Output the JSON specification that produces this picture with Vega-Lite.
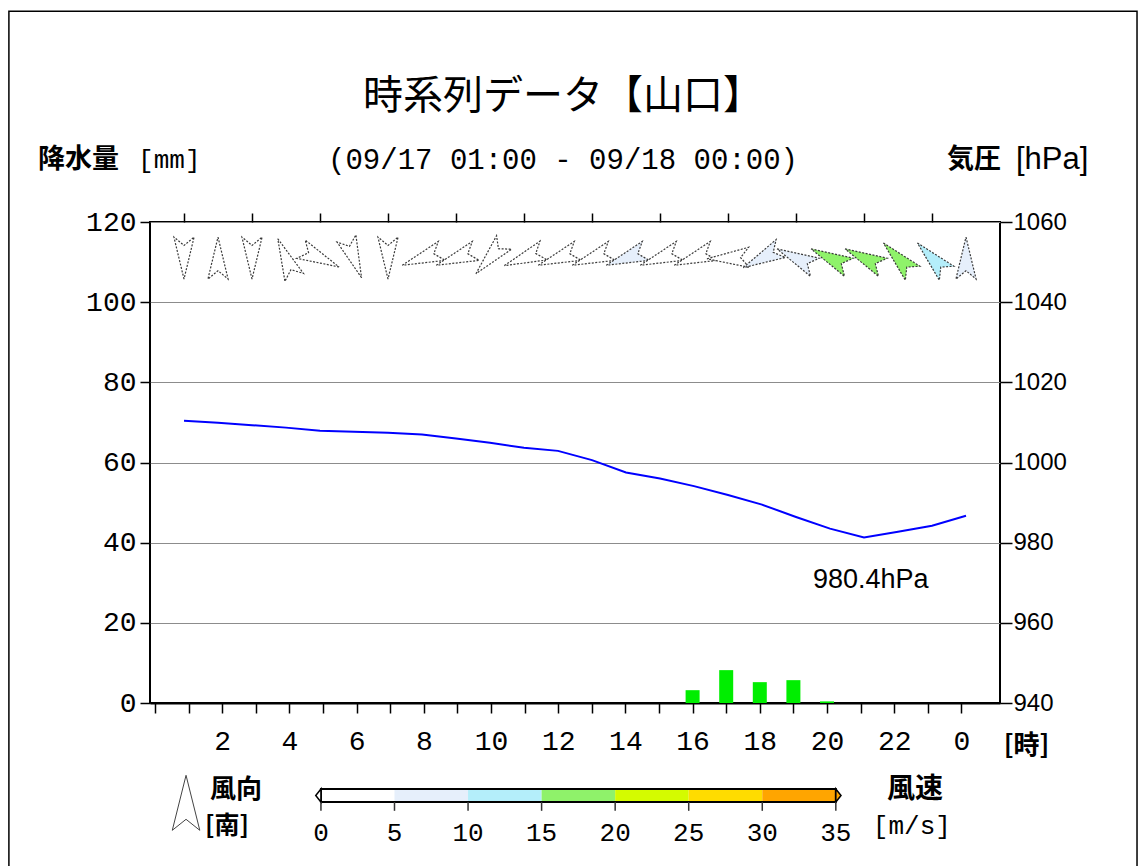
{
  "$schema": "https://vega.github.io/schema/vega-lite/v6.json",
  "width": 850,
  "height": 481,
  "autosize": {"type": "none"},
  "padding": {"left": 150, "top": 222, "right": 140, "bottom": 163},
  "background": "white",
  "title": {
    "text": "時系列データ【山口】",
    "subtitle": "(09/17 01:00 - 09/18 00:00)",
    "anchor": "middle",
    "dx": -12,
    "offset": -165,
    "subtitlePadding": 29,
    "font": "Noto Sans CJK JP",
    "fontSize": 40,
    "fontWeight": "normal",
    "color": "black",
    "subtitleFont": "Liberation Mono",
    "subtitleFontSize": 29,
    "subtitleColor": "black"
  },
  "datasets": {
    "precip": [
      {"hour": 1, "precip": 0}, {"hour": 2, "precip": 0}, {"hour": 3, "precip": 0}, {"hour": 4, "precip": 0},
      {"hour": 5, "precip": 0}, {"hour": 6, "precip": 0}, {"hour": 7, "precip": 0}, {"hour": 8, "precip": 0},
      {"hour": 9, "precip": 0}, {"hour": 10, "precip": 0}, {"hour": 11, "precip": 0}, {"hour": 12, "precip": 0},
      {"hour": 13, "precip": 0}, {"hour": 14, "precip": 0}, {"hour": 15, "precip": 0}, {"hour": 16, "precip": 3.2},
      {"hour": 17, "precip": 8.2}, {"hour": 18, "precip": 5.2}, {"hour": 19, "precip": 5.7}, {"hour": 20, "precip": 0.4},
      {"hour": 21, "precip": 0}, {"hour": 22, "precip": 0}, {"hour": 23, "precip": 0}, {"hour": 24, "precip": 0}
    ],
    "pressure": [
      {"hour": 1, "hPa": 1010.4}, {"hour": 2, "hPa": 1009.9}, {"hour": 3, "hPa": 1009.3}, {"hour": 4, "hPa": 1008.7},
      {"hour": 5, "hPa": 1007.9}, {"hour": 6, "hPa": 1007.7}, {"hour": 7, "hPa": 1007.4}, {"hour": 8, "hPa": 1007.0},
      {"hour": 9, "hPa": 1006.0}, {"hour": 10, "hPa": 1004.9}, {"hour": 11, "hPa": 1003.7}, {"hour": 12, "hPa": 1002.9},
      {"hour": 13, "hPa": 1000.6}, {"hour": 14, "hPa": 997.5}, {"hour": 15, "hPa": 996.0}, {"hour": 16, "hPa": 994.1},
      {"hour": 17, "hPa": 991.9}, {"hour": 18, "hPa": 989.5}, {"hour": 19, "hPa": 986.4}, {"hour": 20, "hPa": 983.5},
      {"hour": 21, "hPa": 981.3}, {"hour": 22, "hPa": 982.7}, {"hour": 23, "hPa": 984.2}, {"hour": 24, "hPa": 986.7}
    ],
    "wind": [
      {"hour": 1, "dir": 180, "speed": 2.5}, {"hour": 2, "dir": 0, "speed": 2.0}, {"hour": 3, "dir": 180, "speed": 2.2},
      {"hour": 4, "dir": 337, "speed": 2.8}, {"hour": 5, "dir": 115, "speed": 3.2}, {"hour": 6, "dir": 159, "speed": 2.6},
      {"hour": 7, "dir": 180, "speed": 2.4}, {"hour": 8, "dir": 250, "speed": 3.5}, {"hour": 9, "dir": 250, "speed": 3.8},
      {"hour": 10, "dir": 222, "speed": 3.0}, {"hour": 11, "dir": 249, "speed": 4.0}, {"hour": 12, "dir": 250, "speed": 4.2},
      {"hour": 13, "dir": 250, "speed": 4.5}, {"hour": 14, "dir": 250, "speed": 5.6}, {"hour": 15, "dir": 250, "speed": 4.6},
      {"hour": 16, "dir": 250, "speed": 4.8}, {"hour": 17, "dir": 268, "speed": 4.4}, {"hour": 18, "dir": 243, "speed": 6.2},
      {"hour": 19, "dir": 296, "speed": 7.5}, {"hour": 20, "dir": 296, "speed": 15.8}, {"hour": 21, "dir": 296, "speed": 16.3},
      {"hour": 22, "dir": 316, "speed": 15.5}, {"hour": 23, "dir": 316, "speed": 11.2}, {"hour": 24, "dir": 0, "speed": 6.8}
    ],
    "speedBins": [
      {"lo": 0, "hi": 5}, {"lo": 5, "hi": 10}, {"lo": 10, "hi": 15}, {"lo": 15, "hi": 20},
      {"lo": 20, "hi": 25}, {"lo": 25, "hi": 30}, {"lo": 30, "hi": 35}
    ],
    "speedTicks": [
      {"v": 0}, {"v": 5}, {"v": 10}, {"v": 15}, {"v": 20}, {"v": 25}, {"v": 30}, {"v": 35}
    ]
  },
  "layer": [
    {
      "data": {"name": "precip"},
      "mark": {"type": "bar", "color": "#00ee00", "size": 14},
      "encoding": {
        "x": {
          "field": "hour", "type": "quantitative",
          "scale": {"domain": [0, 25], "nice": false, "zero": false},
          "axis": {
            "orient": "bottom",
            "values": [0, 1, 2, 3, 4, 5, 6, 7, 8, 9, 10, 11, 12, 13, 14, 15, 16, 17, 18, 19, 20, 21, 22, 23, 24],
            "labelExpr": "datum.value % 2 == 0 && datum.value > 0 ? (datum.value == 24 ? '0' : datum.label) : ''",
            "labelOverlap": false, "labelFlush": false,
            "tickSize": 10, "tickColor": "black", "tickWidth": 1.5,
            "domain": true, "domainColor": "black", "domainWidth": 2,
            "labelFont": "Liberation Mono", "labelFontSize": 28, "labelColor": "black", "labelPadding": 14,
            "grid": false,
            "title": "[時]", "titleX": 876, "titleY": 42, "titleAlign": "center", "titleBaseline": "middle",
            "titleFont": "Noto Sans CJK JP", "titleFontSize": 26, "titleFontWeight": "bold", "titleColor": "black"
          }
        },
        "y": {
          "field": "precip", "type": "quantitative",
          "scale": {"domain": [0, 120], "nice": false, "zero": false},
          "axis": {
            "orient": "left", "values": [0, 20, 40, 60, 80, 100, 120],
            "grid": true, "gridColor": "#8c8c8c", "gridWidth": 1,
            "tickSize": 10, "tickColor": "black", "tickWidth": 1.5, "domain": false,
            "labelFont": "Liberation Mono", "labelFontSize": 28, "labelColor": "black", "labelPadding": 4,
            "labelFlush": false, "title": null
          }
        }
      }
    },
    {
      "layer": [
        {
          "data": {"name": "pressure"},
          "mark": {"type": "line", "color": "#0000ff", "strokeWidth": 2},
          "encoding": {
            "x": {
              "field": "hour", "type": "quantitative",
              "scale": {"domain": [0, 25], "nice": false, "zero": false},
              "axis": {
                "orient": "top",
                "values": [1, 2, 3, 4, 5, 6, 7, 8, 9, 10, 11, 12, 13, 14, 15, 16, 17, 18, 19, 20, 21, 22, 23, 24],
                "labels": false, "tickSize": 9, "tickColor": "black", "tickWidth": 1.5,
                "domain": false, "grid": false, "title": null
              }
            },
            "y": {
              "field": "hPa", "type": "quantitative",
              "scale": {"domain": [940, 1060], "nice": false, "zero": false},
              "axis": {
                "orient": "right", "values": [940, 960, 980, 1000, 1020, 1040, 1060], "format": "d",
                "tickSize": 12, "tickColor": "black", "tickWidth": 1.5, "domain": false, "grid": false,
                "labelFont": "Liberation Sans Narrow, Liberation Sans, sans-serif", "labelFontSize": 24,
                "labelColor": "black", "labelPadding": 1, "labelFlush": false, "title": null
              }
            }
          }
        },
        {
          "data": {"values": [{}]},
          "mark": {"type": "text", "font": "Liberation Sans Narrow, Liberation Sans, sans-serif", "fontSize": 27,
                   "dy": 39, "align": "center", "baseline": "middle", "color": "black"},
          "encoding": {
            "x": {"datum": 21.2, "type": "quantitative"},
            "y": {"datum": 980.4, "type": "quantitative"},
            "text": {"value": "980.4hPa"}
          }
        }
      ]
    },
    {
      "data": {"name": "wind"},
      "mark": {"type": "point", "shape": "M0,-1L0.48,1L0,0.6L-0.48,1Z", "filled": true, "size": 1764,
               "stroke": "#3a3a3a", "strokeWidth": 1.2, "strokeDash": [2, 1.5], "opacity": 1},
      "encoding": {
        "x": {"field": "hour", "type": "quantitative", "scale": {"domain": [0, 25], "nice": false, "zero": false}, "axis": null},
        "y": {"datum": 111, "type": "quantitative", "scale": {"domain": [0, 120], "nice": false, "zero": false}, "axis": null},
        "angle": {"field": "dir", "type": "quantitative", "scale": {"domain": [0, 360], "range": [0, 360]}},
        "color": {
          "field": "speed", "type": "quantitative",
          "scale": {"type": "threshold", "domain": [5, 10, 15, 20, 25, 30],
                    "range": ["#ffffff", "#e6effb", "#b4eefa", "#8ff26a", "#d4fb00", "#ffdc00", "#ffa500"]},
          "legend": null
        }
      }
    },
    {
      "data": {"values": [{}]},
      "layer": [
        {
          "mark": {"type": "rect", "filled": false, "stroke": "black", "strokeWidth": 1.5},
          "encoding": {
            "x": {"datum": -4.15, "type": "quantitative", "scale": {"domain": [0, 25], "nice": false, "zero": false}, "axis": null},
            "x2": {"datum": 29.03},
            "y": {"datum": 172.6, "type": "quantitative", "scale": {"domain": [0, 120], "nice": false, "zero": false}, "axis": null},
            "y2": {"datum": -45}
          }
        },
        {
          "mark": {"type": "text", "font": "Noto Sans CJK JP", "fontSize": 27, "fontWeight": "bold", "align": "left", "baseline": "middle", "color": "black"},
          "encoding": {
            "x": {"datum": -3.294, "type": "quantitative", "axis": null},
            "y": {"datum": 135.5, "type": "quantitative", "axis": null},
            "text": {"value": "降水量"}
          }
        },
        {
          "mark": {"type": "text", "font": "Liberation Mono", "fontSize": 26, "align": "left", "baseline": "middle", "color": "black"},
          "encoding": {
            "x": {"datum": -0.35, "type": "quantitative", "axis": null},
            "y": {"datum": 135.5, "type": "quantitative", "axis": null},
            "text": {"value": "[mm]"}
          }
        },
        {
          "mark": {"type": "text", "font": "Noto Sans CJK JP", "fontSize": 27, "fontWeight": "bold", "align": "left", "baseline": "middle", "color": "black"},
          "encoding": {
            "x": {"datum": 23.44, "type": "quantitative", "axis": null},
            "y": {"datum": 135.5, "type": "quantitative", "axis": null},
            "text": {"value": "気圧"}
          }
        },
        {
          "mark": {"type": "text", "font": "Liberation Sans Narrow, Liberation Sans, sans-serif", "fontSize": 31, "align": "left", "baseline": "middle", "color": "black"},
          "encoding": {
            "x": {"datum": 25.47, "type": "quantitative", "axis": null},
            "y": {"datum": 135.5, "type": "quantitative", "axis": null},
            "text": {"value": "[hPa]"}
          }
        },
        {
          "mark": {"type": "point", "shape": "M0,-1L0.5,1L0,0.6L-0.5,1Z", "filled": true, "fill": "white", "size": 3025,
                   "stroke": "#444444", "strokeWidth": 1, "opacity": 1},
          "encoding": {
            "x": {"datum": 1.06, "type": "quantitative", "axis": null},
            "y": {"datum": -24.9, "type": "quantitative", "axis": null}
          }
        },
        {
          "mark": {"type": "text", "font": "Noto Sans CJK JP", "fontSize": 26, "fontWeight": "bold", "align": "left", "baseline": "middle", "color": "black"},
          "encoding": {
            "x": {"datum": 1.765, "type": "quantitative", "axis": null},
            "y": {"datum": -21.7, "type": "quantitative", "axis": null},
            "text": {"value": "風向"}
          }
        },
        {
          "mark": {"type": "text", "font": "Noto Sans CJK JP", "fontSize": 25, "fontWeight": "bold", "align": "left", "baseline": "middle", "color": "black"},
          "encoding": {
            "x": {"datum": 1.618, "type": "quantitative", "axis": null},
            "y": {"datum": -30.7, "type": "quantitative", "axis": null},
            "text": {"value": "[南]"}
          }
        },
        {
          "mark": {"type": "text", "font": "Noto Sans CJK JP", "fontSize": 28, "fontWeight": "bold", "align": "left", "baseline": "middle", "color": "black"},
          "encoding": {
            "x": {"datum": 21.68, "type": "quantitative", "axis": null},
            "y": {"datum": -21.7, "type": "quantitative", "axis": null},
            "text": {"value": "風速"}
          }
        },
        {
          "mark": {"type": "text", "font": "Liberation Mono", "fontSize": 26, "align": "left", "baseline": "middle", "color": "black"},
          "encoding": {
            "x": {"datum": 21.26, "type": "quantitative", "axis": null},
            "y": {"datum": -30.7, "type": "quantitative", "axis": null},
            "text": {"value": "[m/s]"}
          }
        }
      ]
    },
    {
      "layer": [
        {
          "data": {"name": "speedBins"},
          "mark": {"type": "rect"},
          "encoding": {
            "x": {"field": "lo", "type": "quantitative", "scale": {"domain": [-11.62, 46.16], "nice": false, "zero": false}, "axis": null},
            "x2": {"field": "hi"},
            "y": {"datum": -21.46, "type": "quantitative", "scale": {"domain": [0, 120], "nice": false, "zero": false}, "axis": null},
            "y2": {"datum": -24.7},
            "color": {
              "field": "lo", "type": "quantitative",
              "scale": {"type": "threshold", "domain": [5, 10, 15, 20, 25, 30],
                        "range": ["#ffffff", "#e6effb", "#b4eefa", "#8ff26a", "#d4fb00", "#ffdc00", "#ffa500"]},
              "legend": null
            }
          }
        },
        {
          "data": {"values": [{}]},
          "mark": {"type": "rect", "filled": false, "stroke": "black", "strokeWidth": 2},
          "encoding": {
            "x": {"datum": 0, "type": "quantitative", "axis": null},
            "x2": {"datum": 35},
            "y": {"datum": -21.46, "type": "quantitative", "axis": null},
            "y2": {"datum": -24.7}
          }
        },
        {
          "data": {"values": [{}]},
          "mark": {"type": "point", "shape": "M0,-1L-0.8,0L0,1Z", "filled": true, "fill": "white", "stroke": "black", "strokeWidth": 1.5, "size": 169, "opacity": 1},
          "encoding": {
            "x": {"datum": 0, "type": "quantitative", "axis": null},
            "y": {"datum": -23.08, "type": "quantitative", "axis": null}
          }
        },
        {
          "data": {"values": [{}]},
          "mark": {"type": "point", "shape": "M0,-1L0.8,0L0,1Z", "filled": true, "fill": "#ffa500", "stroke": "black", "strokeWidth": 1.5, "size": 169, "opacity": 1},
          "encoding": {
            "x": {"datum": 35, "type": "quantitative", "axis": null},
            "y": {"datum": -23.08, "type": "quantitative", "axis": null}
          }
        },
        {
          "data": {"name": "speedTicks"},
          "mark": {"type": "rule", "color": "#333333", "strokeWidth": 1.5},
          "encoding": {
            "x": {"field": "v", "type": "quantitative", "axis": null},
            "y": {"datum": -24.7, "type": "quantitative", "axis": null},
            "y2": {"datum": -26.9}
          }
        },
        {
          "data": {"name": "speedTicks"},
          "mark": {"type": "text", "font": "Liberation Mono", "fontSize": 26, "align": "center", "baseline": "middle", "color": "black"},
          "encoding": {
            "x": {"field": "v", "type": "quantitative", "axis": null},
            "y": {"datum": -32.43, "type": "quantitative", "axis": null},
            "text": {"field": "v", "type": "quantitative"}
          }
        }
      ]
    }
  ],
  "resolve": {"scale": {"x": "independent", "y": "independent"}},
  "config": {
    "view": {"stroke": "black", "strokeWidth": 2},
    "font": "Noto Sans CJK JP"
  }
}
